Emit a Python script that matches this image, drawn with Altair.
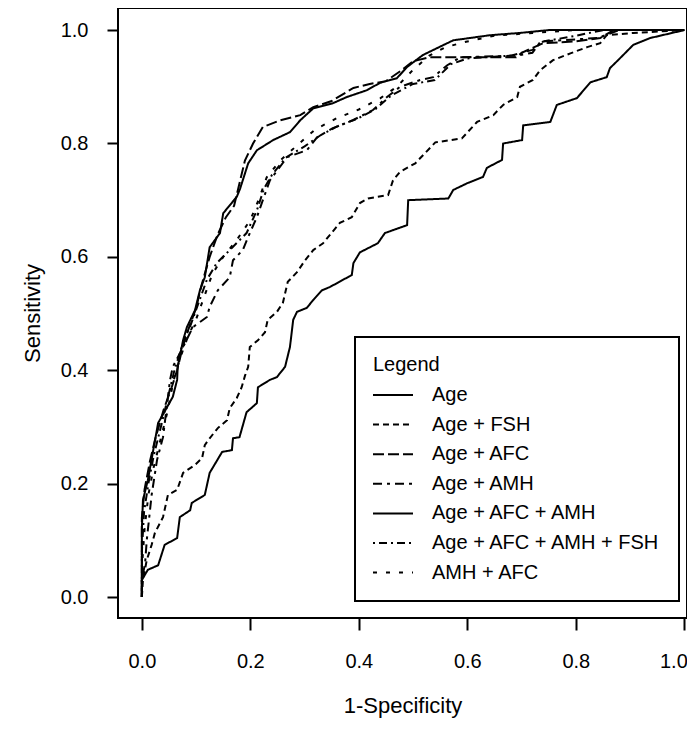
import altair as alt
import pandas as pd

SERIES = ["Age", "Age + FSH", "Age + AFC", "Age + AMH",
          "Age + AFC + AMH", "Age + AFC + AMH + FSH", "AMH + AFC"]
DASHES = [[1, 0], [6, 4], [11, 4], [9, 5, 3, 5], [1, 0], [2, 4, 8, 4], [4, 9]]

AGE_X = [0, 0, 0.011, 0.03, 0.042, 0.065, 0.07, 0.089, 0.092, 0.116,
         0.125, 0.148, 0.166, 0.168, 0.18, 0.193, 0.212, 0.214, 0.236, 0.249,
         0.264, 0.273, 0.279, 0.286, 0.304, 0.316, 0.332, 0.347, 0.387, 0.39,
         0.402, 0.435, 0.448, 0.489, 0.491, 0.565, 0.574, 0.6, 0.629, 0.636,
         0.664, 0.666, 0.701, 0.703, 0.753, 0.765, 0.802, 0.827, 0.857, 0.863,
         0.878, 0.906, 0.937, 1.0]
AGE_Y = [0, 0.03, 0.048, 0.056, 0.092, 0.104, 0.141, 0.153, 0.166, 0.18,
         0.219, 0.256, 0.259, 0.28, 0.282, 0.326, 0.342, 0.37, 0.383, 0.388,
         0.406, 0.441, 0.489, 0.503, 0.51, 0.524, 0.541, 0.547, 0.568, 0.589,
         0.608, 0.624, 0.642, 0.656, 0.7, 0.703, 0.718, 0.73, 0.741, 0.757,
         0.771, 0.8, 0.806, 0.832, 0.838, 0.868, 0.88, 0.908, 0.917, 0.933,
         0.947, 0.974, 0.986, 1.0]

FSH_X = [0, 0.002, 0.009, 0.018, 0.024, 0.039, 0.048, 0.065, 0.076, 0.098,
         0.111, 0.116, 0.125, 0.14, 0.157, 0.162, 0.175, 0.184, 0.19, 0.196,
         0.199, 0.214, 0.227, 0.232, 0.249, 0.26, 0.269, 0.286, 0.301, 0.316,
         0.334, 0.365, 0.387, 0.402, 0.417, 0.454, 0.463, 0.476, 0.504, 0.541,
         0.59, 0.618, 0.648, 0.666, 0.692, 0.697, 0.721, 0.734, 0.758, 0.79,
         0.821, 0.845, 0.857, 0.906, 1.0]
FSH_Y = [0, 0.03, 0.065, 0.092, 0.113, 0.141, 0.18, 0.189, 0.219, 0.233,
         0.245, 0.268, 0.28, 0.298, 0.312, 0.333, 0.351, 0.37, 0.39, 0.406,
         0.441, 0.453, 0.467, 0.489, 0.503, 0.519, 0.556, 0.573, 0.594, 0.612,
         0.624, 0.66, 0.67, 0.695, 0.703, 0.709, 0.735, 0.75, 0.765, 0.802,
         0.809, 0.838, 0.85, 0.868, 0.882, 0.9, 0.912, 0.929, 0.947, 0.959,
         0.97, 0.977, 0.991, 0.995, 1.0]

AFC_X = [0, 0, 0.005, 0.015, 0.025, 0.04, 0.055, 0.065, 0.075, 0.085,
         0.1, 0.11, 0.125, 0.14, 0.155, 0.17, 0.18, 0.19, 0.205, 0.223,
         0.255, 0.292, 0.316, 0.35, 0.39, 0.42, 0.45, 0.48, 0.5, 0.53,
         0.69, 0.7, 0.74, 0.8, 0.845, 0.87, 1.0]
AFC_Y = [0, 0.14, 0.19, 0.24, 0.28, 0.33, 0.37, 0.4, 0.44, 0.47,
         0.51, 0.55, 0.6, 0.64, 0.67, 0.69, 0.73, 0.77, 0.8, 0.829,
         0.841, 0.85, 0.864, 0.875, 0.898, 0.905, 0.91, 0.93, 0.945, 0.952,
         0.952, 0.96, 0.977, 0.98, 0.986, 1.0, 1.0]

AMH_X = [0, 0, 0.006, 0.009, 0.018, 0.028, 0.039, 0.052, 0.057, 0.076,
         0.094, 0.12, 0.125, 0.14, 0.162, 0.168, 0.186, 0.199, 0.212, 0.223,
         0.236, 0.268, 0.304, 0.323, 0.352, 0.389, 0.426, 0.452, 0.476, 0.513,
         0.537, 0.563, 0.587, 0.69, 0.72, 0.735, 0.84, 0.88, 1.0]
AMH_Y = [0, 0.03, 0.06, 0.1, 0.18, 0.242, 0.282, 0.383, 0.406, 0.441,
         0.476, 0.494, 0.512, 0.541, 0.564, 0.594, 0.612, 0.642, 0.67, 0.7,
         0.735, 0.776, 0.788, 0.811, 0.827, 0.841, 0.859, 0.882, 0.9, 0.912,
         0.917, 0.938, 0.952, 0.955, 0.96, 0.98, 0.986, 1.0, 1.0]

AFC_AMH_X = [0, 0, 0.002, 0.011, 0.02, 0.03, 0.057, 0.065, 0.066, 0.076,
             0.083, 0.098, 0.107, 0.116, 0.125, 0.144, 0.15, 0.175, 0.181, 0.186,
             0.196, 0.212, 0.242, 0.273, 0.292, 0.316, 0.352, 0.378, 0.415, 0.439,
             0.47, 0.489, 0.518, 0.574, 0.642, 0.697, 0.75, 1.0]
AFC_AMH_Y = [0, 0.12, 0.171, 0.206, 0.254, 0.307, 0.353, 0.383, 0.406, 0.453,
             0.476, 0.506, 0.541, 0.564, 0.617, 0.642, 0.677, 0.706, 0.72, 0.735,
             0.765, 0.788, 0.806, 0.82, 0.841, 0.862, 0.871, 0.882, 0.894, 0.907,
             0.915, 0.935, 0.956, 0.982, 0.991, 0.995, 1.0, 1.0]

ALL4_X = [0, 0, 0.004, 0.012, 0.022, 0.035, 0.05, 0.06, 0.07, 0.08,
          0.09, 0.105, 0.12, 0.138, 0.162, 0.193, 0.212, 0.225, 0.24, 0.265,
          0.3, 0.33, 0.36, 0.4, 0.43, 0.46, 0.5, 0.54, 0.57, 0.6,
          0.68, 0.72, 0.74, 0.8, 0.85, 1.0]
ALL4_Y = [0, 0.08, 0.15, 0.2, 0.25, 0.3, 0.36, 0.4, 0.43, 0.46,
          0.48, 0.52, 0.56, 0.589, 0.612, 0.642, 0.682, 0.72, 0.745, 0.775,
          0.795, 0.815, 0.83, 0.845, 0.86, 0.885, 0.905, 0.912, 0.94, 0.95,
          0.955, 0.965, 0.98, 0.99, 1.0, 1.0]

AMH_AFC_X = [0, 0, 0.005, 0.012, 0.022, 0.035, 0.048, 0.058, 0.07, 0.085,
             0.1, 0.115, 0.13, 0.15, 0.175, 0.2, 0.215, 0.23, 0.255, 0.29,
             0.32, 0.36, 0.4, 0.44, 0.47, 0.5, 0.53, 0.56, 0.6, 0.65,
             0.72, 0.8, 1.0]
AMH_AFC_Y = [0, 0.05, 0.12, 0.18, 0.23, 0.28, 0.33, 0.38, 0.42, 0.46,
             0.49, 0.53, 0.57, 0.6, 0.63, 0.665, 0.7, 0.74, 0.77, 0.8,
             0.825, 0.845, 0.86, 0.88, 0.9, 0.93, 0.955, 0.97, 0.98, 0.99,
             0.995, 1.0, 1.0]

CURVES = [(AGE_X, AGE_Y), (FSH_X, FSH_Y), (AFC_X, AFC_Y), (AMH_X, AMH_Y),
          (AFC_AMH_X, AFC_AMH_Y), (ALL4_X, ALL4_Y), (AMH_AFC_X, AMH_AFC_Y)]

rows = []
for name, (xs, ys) in zip(SERIES, CURVES):
    n = min(len(xs), len(ys))
    for i in range(n):
        rows.append({"series": name, "idx": i, "fpr": xs[i], "tpr": ys[i]})
df = pd.DataFrame(rows)

FONT = "Liberation Sans, Arial, Helvetica, sans-serif"
TICKS = [0, 0.2, 0.4, 0.6, 0.8, 1.0]

chart = alt.Chart(df).mark_line(color="black", strokeWidth=2, clip=True).encode(
    x=alt.X("fpr:Q",
            scale=alt.Scale(domain=[-0.044, 1.005], nice=False, zero=False),
            axis=alt.Axis(values=TICKS, format=".1f", title="1-Specificity",
                          tickSize=12, labelPadding=21, titleY=87,
                          titleBaseline="middle", labelFlush=5,
                          labelFlushOffset=3)),
    y=alt.Y("tpr:Q",
            scale=alt.Scale(domain=[-0.037, 1.039], nice=False, zero=False),
            axis=alt.Axis(values=TICKS, format=".1f", title="Sensitivity",
                          tickSize=11, labelPadding=19, titleX=-86,
                          titleBaseline="middle")),
    strokeDash=alt.StrokeDash(
        "series:N", sort=SERIES,
        scale=alt.Scale(domain=SERIES, range=DASHES),
        legend=alt.Legend(
            orient="none", legendX=237, legendY=329, title="Legend",
            titleFontSize=20, titleFont=FONT, titleFontWeight="normal",
            titleColor="black", titleAnchor="start", titlePadding=9,
            labelFontSize=20, labelFont=FONT, labelColor="black", labelLimit=400,
            symbolType="M-2,0H2", symbolSize=400, symbolStrokeWidth=2,
            symbolStrokeColor="black", symbolOffset=9, labelOffset=28,
            padding=18, rowPadding=8.6, strokeColor="black", fillColor="white")),
    order="idx:Q",
).properties(
    width=569, height=610,
    autosize=alt.AutoSizeParams(type="none"),
    padding={"left": 110, "top": 0, "right": 0, "bottom": 103},
).configure_view(
    stroke="black", strokeWidth=2
).configure_axis(
    grid=False, domain=False, tickColor="black", tickWidth=2,
    labelFont=FONT, labelFontSize=20, labelColor="black",
    titleFont=FONT, titleFontSize=22, titleFontWeight="normal", titleColor="black",
).configure_legend(strokeWidth=2)

chart.save("out.html", embed_options={"renderer": "svg", "actions": False})
